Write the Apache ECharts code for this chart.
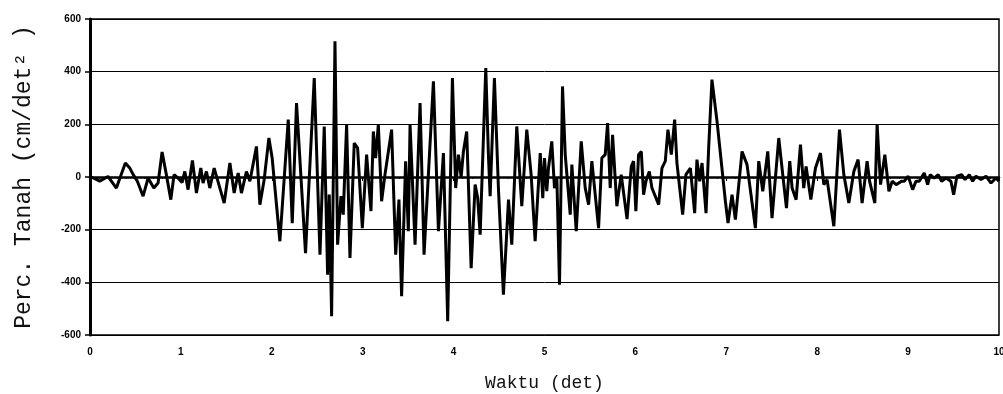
<!DOCTYPE html>
<html lang="id">
<head>
    <meta charset="UTF-8">
    <title>Percepatan Tanah</title>
    <script src="https://cdn.jsdelivr.net/npm/echarts@6/dist/echarts.min.js"></script>
    <style>
        body { margin: 0; background: #fff; }
        #main { width: 1003px; height: 394px; }
    </style>
</head>
<body>
<div id="main"></div>
<script type="text/javascript">
    // waktu (det) dan percepatan (cm/det2)
    var waktu = [
        0.000, 0.014, 0.107, 0.198, 0.290, 0.389, 0.437, 0.474, 0.521, 0.584, 0.639, 0.702, 0.749, 0.793, 0.840, 0.889, 0.925, 0.969,
        1.013, 1.043, 1.079, 1.127, 1.171, 1.219, 1.244, 1.281, 1.318, 1.366, 1.402, 1.476, 1.539, 1.586, 1.630, 1.666, 1.721, 1.759,
        1.831, 1.869, 1.916, 1.968, 2.004, 2.089, 2.181, 2.225, 2.272, 2.371, 2.467, 2.530, 2.577, 2.614, 2.632, 2.658, 2.695, 2.724,
        2.761, 2.786, 2.823, 2.860, 2.907, 2.944, 2.996, 3.043, 3.091, 3.117, 3.142, 3.172, 3.208, 3.245, 3.318, 3.363, 3.399, 3.428,
        3.472, 3.502, 3.521, 3.576, 3.631, 3.675, 3.778, 3.833, 3.888, 3.935, 3.987, 4.023, 4.053, 4.083, 4.108, 4.144, 4.193, 4.237,
        4.265, 4.292, 4.354, 4.383, 4.402, 4.449, 4.493, 4.548, 4.604, 4.640, 4.695, 4.750, 4.805, 4.853, 4.897, 4.953, 4.981, 5.000,
        5.025, 5.044, 5.080, 5.110, 5.136, 5.165, 5.198, 5.228, 5.283, 5.301, 5.349, 5.404, 5.448, 5.485, 5.521, 5.595, 5.631, 5.668,
        5.694, 5.723, 5.749, 5.796, 5.844, 5.908, 5.955, 5.980, 6.005, 6.035, 6.065, 6.090, 6.116, 6.153, 6.182, 6.256, 6.292, 6.329,
        6.358, 6.395, 6.432, 6.457, 6.520, 6.556, 6.605, 6.652, 6.677, 6.707, 6.733, 6.777, 6.806, 6.842, 6.898, 6.990, 7.019, 7.063,
        7.100, 7.173, 7.228, 7.320, 7.357, 7.401, 7.456, 7.503, 7.577, 7.621, 7.662, 7.698, 7.724, 7.768, 7.816, 7.852, 7.878, 7.930,
        7.981, 8.036, 8.073, 8.109, 8.183, 8.245, 8.293, 8.348, 8.403, 8.450, 8.494, 8.549, 8.576, 8.634, 8.659, 8.697, 8.744, 8.789,
        8.825, 8.869, 8.928, 8.959, 9.001, 9.050, 9.086, 9.122, 9.177, 9.215, 9.243, 9.287, 9.331, 9.369, 9.416, 9.471, 9.501, 9.537,
        9.589, 9.626, 9.673, 9.710, 9.747, 9.802, 9.857, 9.912, 9.967, 10.000
    ];
    var percepatan = [
        -10, 0, -16, 2, -42, 53, 34, 10, -16, -73, -4, -42, -23, 95, 9, -86, 9, -4,
        -21, 21, -48, 63, -61, 34, -23, 21, -42, 34, -10, -99, 53, -61, 15, -61, 21, -16,
        116, -105, -10, 148, 72, -244, 218, -175, 281, -289, 376, -295, 192, -371, -67, -529, 515, -257,
        -73, -143, 199, -307, 129, 110, -194, 85, -130, 173, 72, 199, -92, 9, 180, -295, -86, -453,
        60, -206, 199, -257, 281, -295, 363, -206, 91, -548, 376, -42, 85, 0, 97, 173, -346, -29,
        -80, -219, 414, 85, -73, 376, -42, -447, -86, -257, 192, -111, 180, 9, -244, 91, -80, 72,
        -54, 34, 135, -42, -4, -409, 344, 85, -143, 47, -206, 135, -42, -105, 60, -194, 72, 85,
        205, -42, 160, -111, 9, -160, 40, 60, -130, 85, 97, -67, -16, 21, -42, -105, 34, 60,
        180, 85, 218, 53, -143, 9, 34, -137, 66, -16, 53, -137, 110, 370, 211, -92, -175, -67,
        -162, 97, 47, -194, 60, -54, 97, -156, 148, 9, -118, 60, -42, -86, 123, -42, 40, -86,
        34, 91, -29, -10, -187, 180, 9, -99, 21, 66, -99, 60, -16, -99, 199, -29, 85, -54,
        -16, -29, -16, -16, 3, -48, -16, -16, 15, -29, 9, -4, 9, -16, -4, -16, -67, 3,
        9, -10, 9, -16, 3, -10, 3, -23, -4, -16
    ];
    var tickY = [-600, -400, -200, 0, 200, 400, 600];

    var data = [];
    for (var i = 0; i < waktu.length; i++) {
        data.push([waktu[i], percepatan[i]]);
    }

    var myChart = echarts.init(document.getElementById('main'));
    var option = {
        animation: false,
        grid: {
            left: 90,
            right: 4,
            top: 19,
            bottom: 59,
            outerBoundsMode: 'none',
            show: true,
            borderColor: '#000',
            borderWidth: 1.5
        },
        xAxis: {
            type: 'value',
            min: 0,
            max: 10,
            interval: 1,
            name: 'Waktu (det)',
            nameLocation: 'middle',
            nameGap: 39,
            nameTextStyle: { fontFamily: 'Liberation Mono', fontSize: 18, color: '#111' },
            axisLine: { lineStyle: { color: '#000', width: 2.5 } },
            axisTick: { length: 4, lineStyle: { color: '#000', width: 1 } },
            minorTick: { show: true, splitNumber: 10, length: 2, lineStyle: { color: '#000' } },
            axisLabel: { color: '#000', fontSize: 10, fontWeight: 'bold', fontFamily: 'Liberation Sans', margin: 12 },
            splitLine: { show: false }
        },
        yAxis: {
            type: 'value',
            min: tickY[0],
            max: tickY[tickY.length - 1],
            interval: 200,
            name: 'Perc. Tanah (cm/det² )',
            nameLocation: 'middle',
            nameGap: 55,
            nameTextStyle: { fontFamily: 'Liberation Mono', fontSize: 23, color: '#111' },
            axisLine: { show: true, lineStyle: { color: '#000', width: 3 } },
            axisTick: { show: true, length: 5, lineStyle: { color: '#000', width: 1.5 } },
            axisLabel: { color: '#000', fontSize: 10, fontWeight: 'bold', fontFamily: 'Liberation Sans', margin: 9 },
            splitLine: { show: true, lineStyle: { color: '#000', width: 1 } }
        },
        series: [{
            type: 'line',
            data: data,
            symbol: 'none',
            lineStyle: { color: '#000', width: 3 },
            z: 3
        }]
    };
    myChart.setOption(option);
</script>
</body>
</html>
